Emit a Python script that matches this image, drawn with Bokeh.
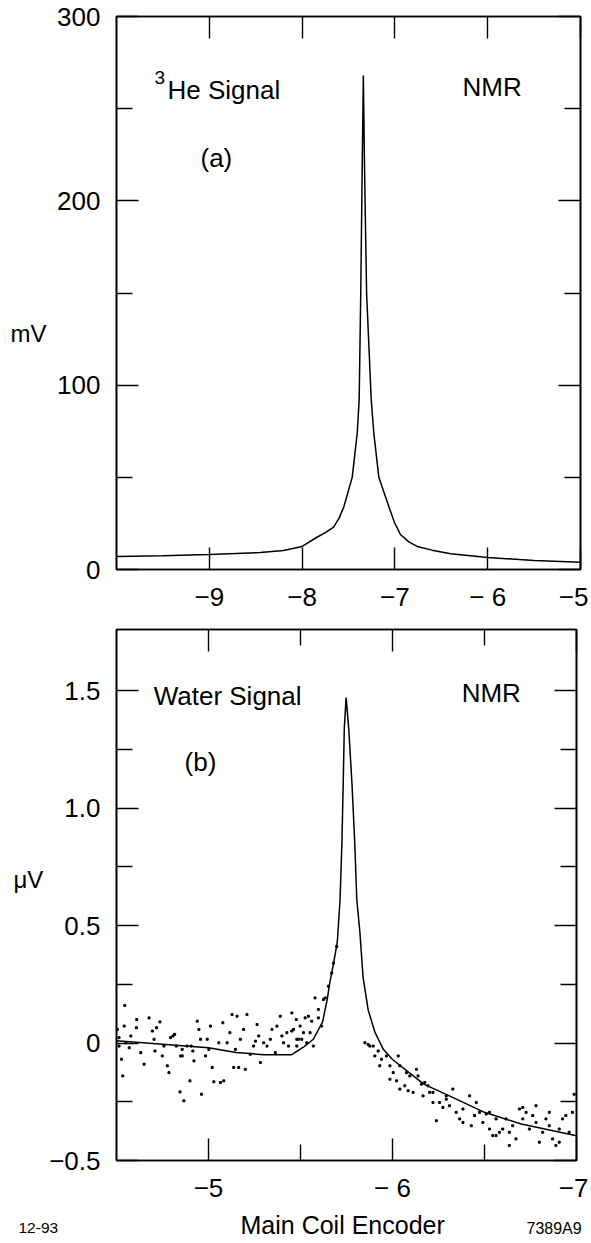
from bokeh.plotting import figure
from bokeh.layouts import column, row
from bokeh.models import Range1d, LinearAxis, FixedTicker, Label
from bokeh.embed import file_html
from bokeh.resources import INLINE

FONT = "Liberation Sans"

# ---------------- Panel (a): 3He NMR signal ----------------
he_x = [-10.0, -9.5, -9.0, -8.45, -8.2, -8.0, -7.84, -7.75, -7.66, -7.6, -7.55, -7.46,
        -7.406, -7.385, -7.368, -7.352, -7.34, -7.328, -7.305, -7.255, -7.227,
        -7.173, -7.065, -7.0, -6.94, -6.85, -6.76, -6.6, -6.4, -6.0, -5.5, -5.0]
he_mv = [7.0, 7.5, 8.1, 9.2, 10.3, 12.5, 17.5, 20, 23, 28, 34, 50,
         74, 92, 150, 220, 268, 220, 150, 92, 74,
         50, 34, 25, 19, 15, 12.5, 10.5, 8.5, 6.5, 4.9, 4.0]

a_xticks = [-9, -8, -7, -6, -5]
a_xlabels = ["\u22129", "\u22128", "\u22127", "\u2212 6", "\u22125"]
a_yticks = [0, 100, 200, 300]
a_yminor = [50, 150, 250]
a_ylabels = ["0", "100", "200", "300"]

# ---------------- Panel (b): water NMR signal ----------------
fit_x = [-4.5, -4.75, -5.0, -5.15, -5.3, -5.45, -5.52, -5.57, -5.62, -5.645,
         -5.66, -5.68, -5.70, -5.715, -5.725, -5.732, -5.738, -5.748, -5.762,
         -5.78, -5.795, -5.806, -5.823, -5.84, -5.868, -5.905, -5.95, -6.0,
         -6.17, -6.35, -6.5, -6.7, -7.0]
fit_uv = [0.01, -0.005, -0.02, -0.04, -0.05, -0.05, -0.015, 0.016, 0.09, 0.185,
          0.26, 0.34, 0.43, 0.61, 0.85, 1.1, 1.34, 1.47, 1.34,
          1.1, 0.85, 0.61, 0.47, 0.28, 0.14, 0.045, -0.027, -0.07,
          -0.175, -0.24, -0.295, -0.345, -0.395]

dots_x = [-4.545, -4.505, -4.514, -4.551, -4.514, -4.527, -4.534, -4.542, -4.569, -4.578,
          -4.610, -4.608, -4.632, -4.650, -4.677, -4.695, -4.704, -4.709, -4.718, -4.736,
          -4.749, -4.758, -4.776, -4.785, -4.794, -4.807, -4.816, -4.825, -4.848, -4.857,
          -4.866, -4.845, -4.857, -4.884, -4.899, -4.906, -4.915, -4.921, -4.939, -4.948,
          -4.957, -4.962, -4.984, -4.993, -5.002, -5.011, -5.020, -5.029, -5.056, -5.065,
          -5.078, -5.083, -5.101, -5.116, -5.128, -5.137, -5.146, -5.155, -5.164, -5.173,
          -5.191, -5.200, -5.209, -5.227, -5.245, -5.255, -5.264, -5.273, -5.282, -5.300,
          -5.318, -5.336, -5.345, -5.363, -5.372, -5.390, -5.399, -5.408, -5.426, -5.435,
          -5.453, -5.462, -5.477, -5.489,
          -5.453, -5.480, -5.480, -5.498, -5.507, -5.516, -5.525, -5.534, -5.543, -5.552,
          -5.561, -5.570, -5.579, -5.597, -5.597, -5.615, -5.625, -5.634, -5.652, -5.670,
          -5.679, -5.697,
          -5.850, -5.868, -5.877, -5.895, -5.904, -5.922, -5.931, -5.940, -5.967, -5.986,
          -5.986, -6.004, -6.022, -6.031, -6.040, -6.040, -6.067, -6.076, -6.085, -6.094,
          -6.112, -6.130, -6.139, -6.157, -6.166, -6.175, -6.193, -6.202, -6.220, -6.220,
          -6.238, -6.256, -6.274, -6.292, -6.292, -6.310, -6.328, -6.346, -6.365, -6.383,
          -6.383, -6.419, -6.428, -6.446, -6.455, -6.473, -6.491, -6.509, -6.527, -6.527,
          -6.545, -6.563, -6.563, -6.581, -6.599, -6.617, -6.635, -6.635, -6.653, -6.671,
          -6.690, -6.708, -6.708, -6.726, -6.744, -6.762, -6.780, -6.780, -6.798, -6.816,
          -6.834, -6.852, -6.852, -6.870, -6.888, -6.906, -6.906, -6.924, -6.942, -6.960,
          -6.978, -6.987]
dots_uv = [0.160, 0.058, 0.023, 0.001, -0.013, -0.069, -0.140, 0.072, -0.020, 0.030,
           0.100, 0.065, -0.041, -0.090, 0.107, 0.051, 0.016, -0.034, 0.065, 0.090,
           -0.055, -0.013, -0.097, -0.126, 0.023, 0.030, 0.037, -0.013, -0.055, -0.055,
           -0.246, -0.208, -0.027, -0.013, -0.161, -0.013, -0.034, -0.076, 0.093, 0.058,
           0.016, -0.218, -0.055, 0.016, -0.027, 0.072, -0.104, -0.165, 0.001, -0.168,
           0.086, -0.161, 0.001, 0.044, 0.121, -0.104, -0.027, 0.114, -0.104, 0.016,
           0.058, -0.112, 0.121, -0.048, -0.013, 0.008, 0.079, 0.030, -0.083, 0.001,
           -0.013, 0.016, 0.058, -0.041, 0.072, 0.114, 0.030, 0.001, 0.044, -0.013,
           0.128, 0.058, 0.100, 0.016,
           0.051, 0.016, -0.013, 0.072, 0.016, 0.044, 0.107, 0.001, 0.114, 0.044,
           0.093, -0.013, 0.192, 0.143, 0.107, 0.072, 0.185, 0.192, 0.242, 0.298,
           0.340, 0.411,
           0.001, -0.006, -0.013, -0.013, -0.055, -0.034, -0.097, -0.069, -0.055, -0.154,
           -0.097, -0.126, -0.161, -0.055, -0.196, -0.097, -0.182, -0.126, -0.203, -0.140,
           -0.210, -0.112, -0.140, -0.175, -0.225, -0.168, -0.182, -0.210, -0.253, -0.210,
           -0.331, -0.253, -0.274, -0.225, -0.239, -0.267, -0.196, -0.295, -0.323, -0.281,
           -0.338, -0.225, -0.352, -0.309, -0.253, -0.295, -0.338, -0.302, -0.366, -0.295,
           -0.394, -0.323, -0.394, -0.380, -0.366, -0.323, -0.436, -0.380, -0.352, -0.408,
           -0.281, -0.274, -0.323, -0.295, -0.366, -0.309, -0.267, -0.338, -0.422, -0.380,
           -0.323, -0.352, -0.295, -0.408, -0.436, -0.366, -0.422, -0.323, -0.309, -0.380,
           -0.295, -0.218]

b_xticks = [-5, -6, -7]
b_xminor = [-5.5, -6.5]
b_xlabels = ["\u22125", "\u2212 6", "\u22127"]
b_yticks = [-0.5, 0, 0.5, 1.0, 1.5]
b_yminor = [-0.25, 0.25, 0.75, 1.25]
b_ylabels = ["\u22120.5", "0", "0.5", "1.0", "1.5"]


def style_axis(ax, ticks, minor, labels, show):
    ax.ticker = FixedTicker(ticks=ticks, minor_ticks=minor)
    ax.major_tick_in = 22
    ax.major_tick_out = 0
    ax.minor_tick_in = 16
    ax.minor_tick_out = 0
    ax.axis_line_width = 1.6
    ax.major_tick_line_width = 1.4
    ax.minor_tick_line_width = 1.4
    ax.axis_line_color = "black"
    ax.major_tick_line_color = "black"
    ax.minor_tick_line_color = "black"
    if show:
        ax.major_label_overrides = dict(zip(ticks, labels))
        ax.major_label_text_font = FONT
        ax.major_label_text_font_size = "26px"
        ax.major_label_text_color = "black"
    else:
        ax.major_label_overrides = {t: "" for t in ticks}
        ax.major_label_text_font_size = "1px"
        ax.major_label_standoff = 0


def make_fig(xr, yr, w, h, bl, br, bt, bb):
    p = figure(width=w, height=h, x_range=xr, y_range=yr, title=None,
               output_backend="svg", toolbar_location=None,
               min_border_left=bl, min_border_right=br,
               min_border_top=bt, min_border_bottom=bb,
               x_axis_location=None, y_axis_location=None)
    p.xgrid.visible = False
    p.ygrid.visible = False
    p.outline_line_color = None
    p.background_fill_color = "white"
    p.border_fill_color = "white"
    return p


def add_axes(p, xt, xm, xl, yt, ym, yl):
    bottom = LinearAxis()
    style_axis(bottom, xt, xm, xl, True)
    bottom.major_label_standoff = 12
    left = LinearAxis()
    style_axis(left, yt, ym, yl, True)
    left.major_label_standoff = 16
    top = LinearAxis()
    style_axis(top, xt, xm, xl, False)
    right = LinearAxis()
    style_axis(right, yt, ym, yl, False)
    p.add_layout(bottom, "below")
    p.add_layout(left, "left")
    p.add_layout(top, "above")
    p.add_layout(right, "right")
    p.outline_line_color = "black"
    p.outline_line_width = 1.6


def lab(p, x, y, text, size="26px", baseline="alphabetic"):
    p.add_layout(Label(x=x, y=y, text=text, text_font=FONT,
                       text_font_size=size, text_color="black",
                       text_baseline=baseline, text_align="left"))


W = 588
SA = 52   # width of the strip holding the "mV" unit
SB = 44   # width of the strip holding the "µV" unit

# ---- figure (a) and its left strip (unit label)
pa = make_fig(Range1d(-10, -5), Range1d(0, 300), W - SA, 620, 116 - SA, 8, 16, 51)
add_axes(pa, a_xticks, [], a_xlabels, a_yticks, a_yminor, a_ylabels)
pa.line(he_x, he_mv, line_color="black", line_width=1.5)
lab(pa, -9.59, 267, "3", "19px")
lab(pa, -9.45, 260, "He Signal")
lab(pa, -9.095, 223, "(a)")
lab(pa, -6.272, 261.5, "NMR")

sa = make_fig(Range1d(0, SA), pa.y_range, SA, 620, 0, 0, 16, 51)
lab(sa, 10, 128, "mV", "24px")

# ---- figure (b) and its left strip (unit label)
pb = make_fig(Range1d(-4.5, -7), Range1d(-0.5, 1.76), W - SB, 585, 116 - SB, 12, 9, 45)
add_axes(pb, b_xticks, b_xminor, b_xlabels, b_yticks, b_yminor, b_ylabels)
pb.scatter(dots_x, dots_uv, marker="square", size=2, color="black")
pb.line(fit_x, fit_uv, line_color="black", line_width=1.5)
lab(pb, -4.702, 1.477, "Water Signal")
lab(pb, -4.87, 1.198, "(b)")
lab(pb, -6.376, 1.49, "NMR")

sb = make_fig(Range1d(0, SB), pb.y_range, SB, 585, 0, 0, 9, 45)
lab(sb, 13, 0.694, "\u03bcV", "24px")

# ---- footer line: axis title and figure codes
ft = make_fig(Range1d(0, W), Range1d(0, 38), W, 38, 0, 0, 0, 0)
lab(ft, 18, 15.5, "12-93", "15.5px", "middle")
lab(ft, 240, 19, "Main Coil Encoder", "25px", "middle")
lab(ft, 526, 15.5, "7389A9", "16px", "middle")

layout = column(row(sa, pa, spacing=0), row(sb, pb, spacing=0), ft, spacing=0)
open("out.html", "w").write(file_html(layout, INLINE))
